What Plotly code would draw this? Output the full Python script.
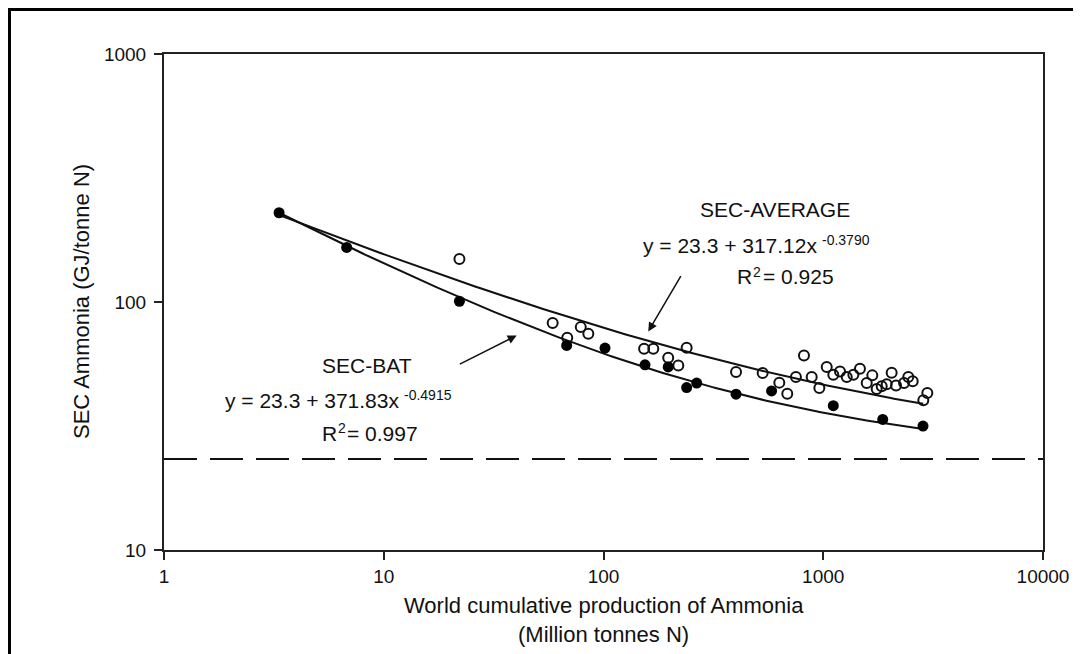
import numpy as np
import plotly.graph_objects as go

# ---- data ----
bat_x = [3.34, 6.78, 22.1, 68.0, 101.6, 154.5, 197, 239, 265.5, 401, 582, 1111, 1865, 2844]
bat_y = [229, 166, 100.7, 66.8, 65.2, 55.8, 54.7, 45.2, 47.1, 42.5, 43.8, 38.2, 33.6, 31.6]

avg_x = [22.1, 58.7, 78.8, 85.3, 68.4, 153, 168.5, 239, 197, 219, 401, 530, 631, 686, 751,
         817, 886, 960, 1037, 1111, 1192, 1279, 1371, 1469, 1577, 1672, 1750, 1845, 1944,
         2048, 2144, 2331, 2438, 2553, 2976, 2853]
avg_y = [149, 82.2, 79.2, 74.5, 71.8, 64.8, 64.8, 65.4, 59.6, 55.5, 52.2, 51.7, 47.3, 42.7, 49.8,
         60.8, 49.8, 45.0, 54.7, 50.9, 52.4, 49.8, 50.9, 53.8, 47.1, 50.6, 44.6, 45.7, 46.6,
         51.9, 46.1, 47.1, 49.8, 47.9, 43.0, 40.2]

# fitted models printed on the chart: y = c + a * x^b
fit_c = 23.3
bat_a, bat_b = 371.83, -0.4915
avg_a, avg_b = 317.12, -0.3790
fit_x_range = [3.3, 2850]
floor_y = 23.3
x_ticks = [1, 10, 100, 1000, 10000]
y_ticks = [10, 100, 1000]

FONT = "Liberation Sans, Arial, Helvetica, sans-serif"

fx = np.logspace(np.log10(fit_x_range[0]), np.log10(fit_x_range[1]), 200)
bat_fit = fit_c + bat_a * fx ** bat_b
avg_fit = fit_c + avg_a * fx ** avg_b

fig = go.Figure()
fig.add_trace(go.Scatter(x=[1, 10000], y=[floor_y, floor_y], mode="lines",
                         line=dict(color="#111", width=2, dash="33px,13px"),
                         hoverinfo="skip", showlegend=False))
fig.add_trace(go.Scatter(x=fx, y=avg_fit, mode="lines", line=dict(color="#111", width=2),
                         showlegend=False))
fig.add_trace(go.Scatter(x=fx, y=bat_fit, mode="lines", line=dict(color="#111", width=2),
                         showlegend=False))
fig.add_trace(go.Scatter(x=avg_x, y=avg_y, mode="markers",
                         marker=dict(symbol="circle-open", size=10, color="#111",
                                     line=dict(width=2, color="#111")),
                         showlegend=False))
fig.add_trace(go.Scatter(x=bat_x, y=bat_y, mode="markers",
                         marker=dict(symbol="circle", size=11, color="#000"),
                         showlegend=False))

axis_common = dict(type="log", showgrid=False, zeroline=False, showline=True, mirror=True,
                   linecolor="#222", linewidth=2, ticks="outside", ticklen=8, tickwidth=1.5,
                   tickcolor="#222", tickfont=dict(family=FONT, size=19, color="#111"))
fig.update_xaxes(range=[0, 4], tickvals=x_ticks, ticktext=[str(v) for v in x_ticks],
                 **axis_common)
fig.update_yaxes(range=[1, 3], tickvals=y_ticks, ticktext=[str(v) for v in y_ticks],
                 ticklabelstandoff=4, **axis_common)

# pixel helpers (plot area: 164..1043 x, 54..550 y in the final page)
def lx(px):
    return (px - 164) / 219.75

def ly(py):
    return 1 + (550 - py) / 248.5

ann = []
tf = dict(family=FONT, size=21, color="#111")
sf = dict(family=FONT, size=14, color="#111")
# SEC-AVERAGE block
ann.append(dict(x=lx(775), y=ly(209), text="SEC-AVERAGE", showarrow=False, font=tf,
                xanchor="center", yanchor="middle"))
ann.append(dict(x=lx(819), y=ly(245), text="y = 23.3 + 317.12x",
                showarrow=False, font=tf, xanchor="right", yanchor="middle"))
ann.append(dict(x=lx(820), y=ly(239), text="-0.3790",
                showarrow=False, font=sf, xanchor="left", yanchor="middle"))
ann.append(dict(x=lx(735), y=ly(276), text="R",
                showarrow=False, font=tf, xanchor="left", yanchor="middle"))
ann.append(dict(x=lx(751), y=ly(271), text="2",
                showarrow=False, font=sf, xanchor="left", yanchor="middle"))
ann.append(dict(x=lx(761), y=ly(276), text="= 0.925",
                showarrow=False, font=tf, xanchor="left", yanchor="middle"))
# SEC-BAT block
ann.append(dict(x=lx(367), y=ly(365), text="SEC-BAT",
                showarrow=False, font=tf, xanchor="center", yanchor="middle"))
ann.append(dict(x=lx(401), y=ly(400), text="y = 23.3 + 371.83x",
                showarrow=False, font=tf, xanchor="right", yanchor="middle"))
ann.append(dict(x=lx(402), y=ly(395), text="-0.4915",
                showarrow=False, font=sf, xanchor="left", yanchor="middle"))
ann.append(dict(x=lx(320), y=ly(433), text="R",
                showarrow=False, font=tf, xanchor="left", yanchor="middle"))
ann.append(dict(x=lx(336), y=ly(428), text="2",
                showarrow=False, font=sf, xanchor="left", yanchor="middle"))
ann.append(dict(x=lx(345), y=ly(433), text="= 0.997",
                showarrow=False, font=tf, xanchor="left", yanchor="middle"))
# arrows
ann.append(dict(x=lx(648.3), y=ly(331), ax=lx(681.7), ay=ly(274), axref="x", ayref="y", text="",
                showarrow=True, arrowhead=2, arrowsize=1.2, arrowwidth=1.5, arrowcolor="#111"))
ann.append(dict(x=lx(516.7), y=ly(335), ax=lx(458.3), ay=ly(364.5), axref="x", ayref="y", text="",
                showarrow=True, arrowhead=2, arrowsize=1.2, arrowwidth=1.5, arrowcolor="#111"))
# axis titles
titlef = dict(family=FONT, size=22, color="#111")
ann.append(dict(x=0.5, y=-0.112, xref="paper", yref="paper",
                text="World cumulative production of Ammonia", showarrow=False, font=titlef,
                xanchor="center", yanchor="middle"))
ann.append(dict(x=0.5, y=-0.17, xref="paper", yref="paper", text="(Million tonnes N)",
                showarrow=False, font=titlef, xanchor="center", yanchor="middle"))
ann.append(dict(x=(81 - 164) / 879, y=0.5, xref="paper", yref="paper",
                text="SEC Ammonia (GJ/tonne N)",
                showarrow=False, font=titlef, textangle=-90, xanchor="center", yanchor="middle"))

# page body has an 8px margin, so the figure's own margins are reduced by 8px;
# outer frame is drawn as close to the page corner as the figure allows
fig.update_layout(
    width=1081, height=654, autosize=False,
    margin=dict(l=156, r=46, t=46, b=112),
    plot_bgcolor="white", paper_bgcolor="white",
    annotations=ann,
    shapes=[dict(type="rect", xref="paper", yref="paper",
                 x0=(9.5 - 164) / 879, x1=2, y0=-1, y1=(550 - 9.5) / 496,
                 line=dict(color="black", width=3), layer="below")],
)

fig.write_html("out.html")
